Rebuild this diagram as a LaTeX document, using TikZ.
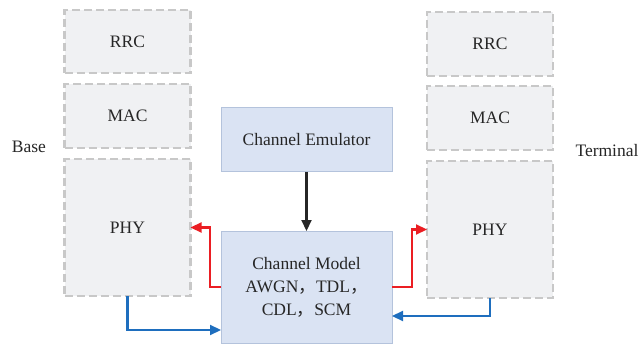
\documentclass[tikz,border=0pt]{standalone}
\usepackage{fontspec}
\setmainfont{Liberation Serif}
\newfontfamily\cjk{Noto Sans CJK SC}
\usetikzlibrary{arrows.meta,calc}
\definecolor{txt}{RGB}{38,38,38}
\definecolor{layerfill}{RGB}{240,241,243}
\definecolor{layerdraw}{RGB}{200,200,200}
\definecolor{chfill}{RGB}{218,227,243}
\definecolor{chdraw}{RGB}{180,195,220}
\definecolor{myred}{RGB}{235,30,35}
\definecolor{myblue}{RGB}{30,110,190}
\tikzset{
  layer/.style={draw=layerdraw, fill=layerfill, line width=2.2pt, dash pattern=on 8pt off 4pt, minimum width=126pt, inner sep=0pt, outer sep=0pt, text=txt, font=\fontsize{17.5}{20}\selectfont},
  chbox/.style={draw=chdraw, fill=chfill, line width=1pt, minimum width=171pt, inner sep=0pt, outer sep=0pt, text=txt, align=center, font=\fontsize{17.5}{23}\selectfont},
  lbl/.style={text=txt, font=\fontsize{17.5}{20}\selectfont, inner sep=0pt},
  redarr/.style={draw=myred, line width=2.2pt, -{Triangle[length=11pt,width=10pt]}},
  bluearr/.style={draw=myblue, line width=2.2pt, -{Triangle[length=11pt,width=10pt]}},
  blackarr/.style={draw=black!85, line width=2.2pt, -{Triangle[length=11pt,width=10pt]}}
}
\begin{document}
\begin{tikzpicture}[x=1pt,y=-1pt]
\useasboundingbox (0,0) rectangle (641,345);
% left column
\node[layer, minimum height=63pt] (lrrc) at (127.5,41.5) {RRC};
\node[layer, minimum height=64pt] (lmac) at (127.5,116) {MAC};
\node[layer, minimum height=137pt] (lphy) at (127.5,227.5) {PHY};
\node[lbl] (base) at (29,147) {Base};
% right column
\node[layer, minimum height=64pt] (rrrc) at (490,44) {RRC};
\node[layer, minimum height=64pt] (rmac) at (490,118) {MAC};
\node[layer, minimum height=137pt] (rphy) at (490,229.5) {PHY};
\node[lbl] (term) at (607,151) {Terminal};
% channel
\node[chbox, minimum height=112pt] (model) at (306.5,287) {Channel Model\\AWGN{\cjk ，}TDL{\cjk ，}\\CDL{\cjk ，}SCM};
\node[chbox, minimum height=64pt] (emu) at (306.5,140) {Channel Emulator};
% arrows
\draw[blackarr] (emu) -- (model);
\draw[redarr] (model.west) -- ++(-11,0) |- (lphy.east);
\draw[redarr] (model.east) -- ++(20,0) |- (rphy.west);
\draw[bluearr] (lphy.south) |- (model.west |- 0,330);
\draw[bluearr] (rphy.south) |- (model.east |- 0,316);
\end{tikzpicture}
\end{document}
